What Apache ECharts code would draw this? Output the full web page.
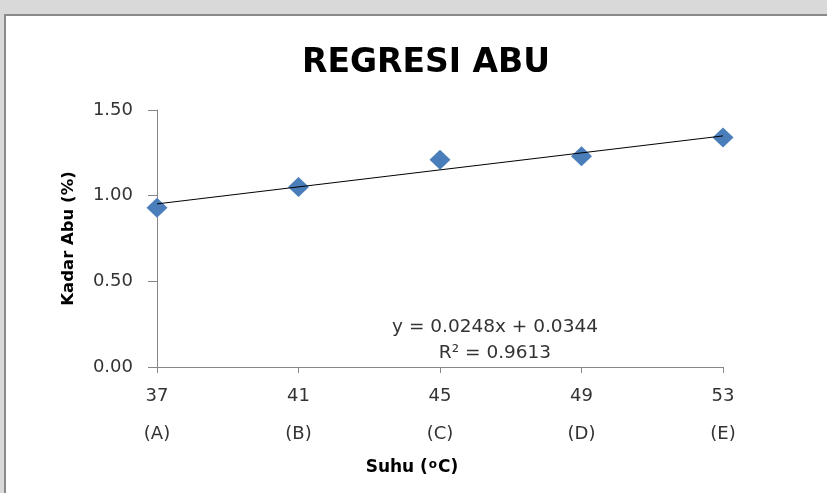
<!DOCTYPE html>
<html>
<head>
<meta charset="utf-8">
<script src="https://cdn.jsdelivr.net/npm/echarts@6/dist/echarts.min.js"></script>
<style>
  html, body { margin: 0; padding: 0; background: #d9d9d9; }
  #chart { width: 827px; height: 493px; }
</style>
</head>
<body>
<div id="chart"></div>
<script>
// Suhu (°C) vs kadar abu (%)
const suhu = [37, 41, 45, 49, 53];
const kode = ['(A)', '(B)', '(C)', '(D)', '(E)'];
const kadarAbu = [0.93, 1.05, 1.21, 1.23, 1.34];

// Linear trend line coefficients
const slope = 0.0248;
const intercept = 0.0344;
const rSquared = 0.9613;

const yTicks = [0, 0.5, 1.0, 1.5];

const points = suhu.map((x, i) => [x, kadarAbu[i]]);
const xMin = suhu[0], xMax = suhu[suhu.length - 1];
const trend = [[xMin, slope * xMin + intercept], [xMax, slope * xMax + intercept]];

const font = '"DejaVu Sans", sans-serif';

const chart = echarts.init(document.getElementById('chart'), null, { renderer: 'canvas' });
chart.setOption({
  backgroundColor: '#d9d9d9',
  animation: false,
  graphic: [
    {
      type: 'rect', z: -10,
      shape: { x: 5, y: 15, width: 840, height: 500 },
      style: { fill: '#ffffff', stroke: '#8a8a8a', lineWidth: 2 }
    },
    {
      type: 'text', z: 10, x: 495, y: 314,
      style: {
        text: 'y = ' + slope.toFixed(4) + 'x + ' + intercept.toFixed(4) + '\nR² = ' + rSquared.toFixed(4),
        font: '18.5px ' + font, fill: '#333', align: 'center', lineHeight: 26
      }
    },
    {
      type: 'text', z: 10, x: 412, y: 468,
      style: {
        text: '{n|Suhu (}{s|o}{n|C)}',
        align: 'center', verticalAlign: 'middle',
        rich: {
          n: { fontFamily: font, fontWeight: 'bold', fontSize: 17, fill: '#000', color: '#000' },
          s: { fontFamily: font, fontWeight: 'bold', fontSize: 12, fill: '#000', color: '#000', padding: [0, 1, 7, 1] }
        }
      }
    }
  ],
  title: {
    text: 'REGRESI ABU',
    left: 421, top: 42, textAlign: 'center',
    textStyle: { fontFamily: font, fontWeight: 'bold', fontSize: 33, color: '#000' }
  },
  grid: { left: 157, right: 104, top: 110, bottom: 126 },
  xAxis: {
    type: 'value', min: 37, max: 53, interval: 4,
    axisLine: { lineStyle: { color: '#868686', width: 1 } },
    axisTick: { show: true, length: 6, lineStyle: { color: '#868686' } },
    splitLine: { show: false },
    axisLabel: {
      margin: 10,
      formatter: v => {
        const i = suhu.indexOf(v);
        return '{a|' + v + '}\n{a|' + (i >= 0 ? kode[i] : '') + '}';
      },
      rich: { a: { fontFamily: font, fontSize: 18, color: '#333', lineHeight: 38 } }
    }
  },
  yAxis: {
    type: 'value', min: yTicks[0], max: yTicks[yTicks.length - 1], interval: 0.5,
    name: 'Kadar Abu (%)', nameLocation: 'middle', nameGap: 80, nameRotate: 90,
    nameTextStyle: { fontFamily: font, fontWeight: 'bold', fontSize: 16.5, color: '#000' },
    axisLine: { show: true, lineStyle: { color: '#868686', width: 1 } },
    axisTick: { show: true, length: 9, lineStyle: { color: '#868686' } },
    splitLine: { show: false },
    axisLabel: {
      margin: 24,
      formatter: v => v.toFixed(2),
      fontFamily: font, fontSize: 18, color: '#333'
    }
  },
  series: [
    {
      type: 'line', data: trend, symbol: 'none', z: 3,
      lineStyle: { color: '#000', width: 1 }
    },
    {
      type: 'scatter', data: points, symbol: 'diamond', symbolSize: [21, 20], z: 2,
      itemStyle: { color: '#4a7ebb', opacity: 1 }
    }
  ]
});
</script>
</body>
</html>
